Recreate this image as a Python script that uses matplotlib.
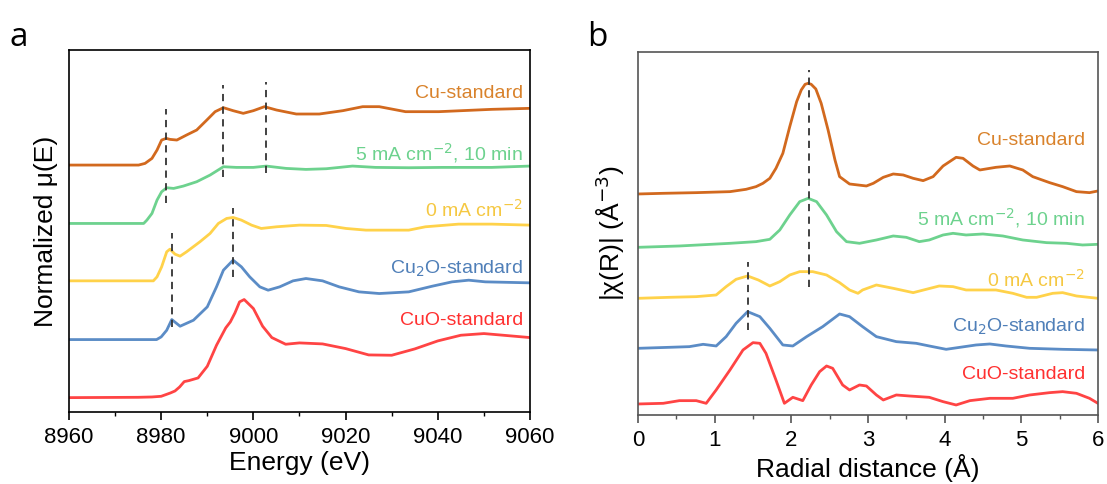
import matplotlib
matplotlib.use("Agg")
import matplotlib.pyplot as plt
from matplotlib.ticker import MultipleLocator

plt.rcParams['font.family'] = ['Liberation Sans', 'DejaVu Sans']

# ---- panel a: XANES, stacked (offsets already included) ----
e_cuo = [8960, 8975, 8978, 8980, 8981, 8982, 8983, 8984, 8985, 8986, 8988, 8990, 8992, 8994,
         8995, 8996, 8997, 8998, 9000, 9002, 9004, 9007, 9010, 9015, 9020, 9025, 9030, 9035,
         9040, 9045, 9050, 9055, 9060]
mu_cuo = [0.43, 0.44, 0.45, 0.47, 0.52, 0.57, 0.63, 0.75, 0.91, 0.94, 1.02, 1.37, 2.00, 2.52,
          2.70, 2.97, 3.30, 3.37, 3.10, 2.57, 2.23, 2.03, 2.07, 2.04, 1.90, 1.71, 1.70, 1.89,
          2.13, 2.30, 2.35, 2.29, 2.23]

e_cu2o = [8960, 8979, 8980, 8981.2, 8982.3, 8984.1, 8987, 8990, 8992, 8993.5, 8995.6, 8997.4,
          8999.2, 9001.4, 9003.2, 9005.7, 9008.6, 9011.4, 9015, 9018.6, 9022.9, 9027.3, 9033.7,
          9038.8, 9043.1, 9046.7, 9050.3, 9060]
mu_cu2o = [2.17, 2.17, 2.25, 2.45, 2.77, 2.57, 2.75, 3.15, 3.75, 4.25, 4.55, 4.35, 4.05, 3.75,
           3.65, 3.75, 3.93, 4.00, 3.93, 3.75, 3.60, 3.55, 3.60, 3.77, 3.90, 3.95, 3.90, 3.87]

e_0ma = [8960, 8978.3, 8979.1, 8980.1, 8981.2, 8981.9, 8983.0, 8984.1, 8985.5, 8988.4, 8990.6,
         8992.4, 8994.2, 8995.6, 8997.4, 8999.6, 9001.7, 9005, 9010, 9015.8, 9020.1, 9024.4,
         9030.1, 9033.7, 9037.3, 9044.5, 9051.7, 9060]
mu_0ma = [3.93, 3.93, 4.05, 4.35, 4.80, 4.88, 4.73, 4.67, 4.80, 5.10, 5.35, 5.65, 5.80, 5.83,
          5.75, 5.60, 5.50, 5.55, 5.60, 5.59, 5.50, 5.45, 5.45, 5.45, 5.55, 5.63, 5.63, 5.60]

e_5ma = [8960, 8976.2, 8976.9, 8978.0, 8979.1, 8980.1, 8981.2, 8982.7, 8984.8, 8987.7, 8990.6,
         8993.5, 8996.3, 9000, 9002.8, 9007.1, 9011.4, 9015.8, 9021.5, 9026.5, 9033.7, 9040.9,
         9051.7, 9060]
mu_5ma = [5.65, 5.65, 5.75, 5.95, 6.35, 6.60, 6.72, 6.70, 6.77, 6.90, 7.10, 7.35, 7.33, 7.33,
          7.37, 7.30, 7.27, 7.29, 7.37, 7.33, 7.32, 7.33, 7.33, 7.37]

e_cu = [8960, 8975.1, 8976.5, 8978.0, 8979.1, 8980.1, 8981.1, 8981.9, 8983.4, 8985.5, 8987.7,
        8989.9, 8991.7, 8993.5, 8995.6, 8997.8, 9000, 9002.4, 9005.0, 9009.3, 9014.3, 9019.4,
        9023.7, 9027.3, 9033.0, 9040.2, 9051.7, 9060]
mu_cu = [7.40, 7.40, 7.45, 7.60, 7.85, 8.15, 8.20, 8.17, 8.15, 8.30, 8.45, 8.75, 9.00, 9.12,
         9.03, 8.95, 9.03, 9.15, 9.05, 8.93, 8.93, 9.03, 9.15, 9.15, 9.00, 9.00, 9.07, 9.10]

# ---- panel b: FT-EXAFS, stacked ----
r_cu = [0, 0.33, 0.76, 1.20, 1.41, 1.54, 1.63, 1.72, 1.80, 1.89, 1.98, 2.07, 2.13, 2.18, 2.22,
        2.26, 2.32, 2.39, 2.48, 2.57, 2.63, 2.76, 2.98, 3.07, 3.20, 3.33, 3.46, 3.59, 3.72,
        3.85, 3.98, 4.15, 4.24, 4.37, 4.46, 4.67, 4.85, 5.02, 5.15, 5.37, 5.54, 5.72, 5.89, 6.0]
chi_cu = [6.63, 6.65, 6.67, 6.70, 6.77, 6.85, 6.95, 7.10, 7.40, 7.85, 8.65, 9.40, 9.75, 9.92,
          9.95, 9.92, 9.78, 9.35, 8.55, 7.65, 7.15, 6.93, 6.87, 6.95, 7.13, 7.23, 7.20, 7.10,
          7.03, 7.15, 7.47, 7.73, 7.70, 7.47, 7.35, 7.43, 7.47, 7.35, 7.15, 6.97, 6.85, 6.70,
          6.67, 6.72]

r_5ma = [0, 0.54, 1.20, 1.54, 1.72, 1.85, 1.98, 2.11, 2.22, 2.33, 2.46, 2.59, 2.72, 2.89, 3.11,
         3.33, 3.50, 3.67, 3.80, 3.98, 4.11, 4.28, 4.50, 4.76, 5.02, 5.33, 5.59, 5.80, 6.0]
chi_5ma = [5.03, 5.07, 5.15, 5.20, 5.27, 5.55, 6.00, 6.40, 6.50, 6.40, 6.00, 5.50, 5.20, 5.15,
           5.25, 5.37, 5.33, 5.20, 5.25, 5.40, 5.45, 5.40, 5.43, 5.37, 5.25, 5.17, 5.15, 5.10, 5.12]

r_0ma = [0, 0.41, 0.76, 1.02, 1.15, 1.28, 1.43, 1.57, 1.72, 1.85, 1.98, 2.11, 2.28, 2.46, 2.63,
         2.76, 2.87, 2.93, 3.11, 3.33, 3.59, 3.76, 3.93, 4.11, 4.28, 4.67, 4.89, 5.07, 5.20,
         5.41, 5.54, 5.72, 6.0]
chi_0ma = [3.50, 3.53, 3.55, 3.60, 3.85, 4.07, 4.17, 4.05, 3.87, 4.00, 4.20, 4.30, 4.30, 4.20,
           3.97, 3.75, 3.65, 3.75, 3.90, 3.80, 3.67, 3.77, 3.87, 3.85, 3.75, 3.75, 3.65, 3.53,
           3.53, 3.65, 3.67, 3.57, 3.50]

r_cu2o = [0, 0.41, 0.67, 0.85, 1.02, 1.15, 1.28, 1.43, 1.59, 1.72, 1.89, 2.02, 2.20, 2.41, 2.63,
          2.76, 2.93, 3.11, 3.37, 3.63, 3.80, 4.02, 4.20, 4.41, 4.59, 4.80, 5.11, 5.54, 6.0]
chi_cu2o = [2.00, 2.03, 2.05, 2.12, 2.07, 2.35, 2.75, 3.10, 2.95, 2.60, 2.10, 2.07, 2.35, 2.65,
            3.03, 2.95, 2.65, 2.35, 2.20, 2.15, 2.07, 1.97, 2.03, 2.10, 2.13, 2.07, 2.00, 1.97, 1.95]

r_cuo = [0, 0.33, 0.54, 0.76, 0.89, 1.02, 1.20, 1.37, 1.50, 1.59, 1.67, 1.80, 1.91, 2.02, 2.15,
         2.26, 2.37, 2.46, 2.54, 2.67, 2.76, 2.89, 2.98, 3.11, 3.20, 3.37, 3.54, 3.80, 3.98,
         4.15, 4.33, 4.59, 4.89, 5.11, 5.37, 5.54, 5.72, 5.89, 6.0]
chi_cuo = [0.33, 0.35, 0.43, 0.43, 0.35, 0.75, 1.35, 1.95, 2.17, 2.15, 1.85, 1.05, 0.35, 0.53,
           0.43, 0.90, 1.30, 1.47, 1.40, 0.90, 0.75, 0.90, 0.87, 0.60, 0.45, 0.60, 0.57, 0.53,
           0.40, 0.30, 0.43, 0.50, 0.50, 0.60, 0.67, 0.70, 0.65, 0.50, 0.35]

labels = ['Cu-standard', '5 mA cm$^{-2}$, 10 min', '0 mA cm$^{-2}$',
          'Cu$_2$O-standard', 'CuO-standard']
line_colors = ['#D2691E', '#6DD28E', '#FFD24A', '#5B8CC6', '#FF4444']
text_colors = ['#D9822B', '#6DD28E', '#F5C842', '#4F7FB8', '#FF3030']

label_y_a = [9.53, 7.75, 6.05, 4.30, 2.75]
label_y_b = [8.22, 5.90, 4.05, 2.65, 1.20]

# dashed guide lines: (x, y0, y1)
guides_a = [(8981.1, 6.25, 9.07), (8993.5, 7.03, 9.80), (9002.7, 7.15, 9.90),
            (8995.6, 4.05, 6.10), (8982.3, 2.55, 5.35)]
guides_b = [(2.23, 3.85, 10.35), (1.43, 2.55, 4.60)]

fig = plt.figure(figsize=(11.07, 4.84), dpi=100)
ax1 = fig.add_axes([0.0623, 0.1488, 0.4165, 0.748])
ax2 = fig.add_axes([0.5763, 0.1426, 0.4155, 0.750])

series_a = [(e_cu, mu_cu), (e_5ma, mu_5ma), (e_0ma, mu_0ma), (e_cu2o, mu_cu2o), (e_cuo, mu_cuo)]
series_b = [(r_cu, chi_cu), (r_5ma, chi_5ma), (r_0ma, chi_0ma), (r_cu2o, chi_cu2o), (r_cuo, chi_cuo)]

for (x, y), c in zip(series_a, line_colors):
    ax1.plot(x, y, color=c, lw=2, solid_joinstyle='round')
for (x, y), c in zip(series_b, line_colors):
    ax2.plot(x, y, color=c, lw=2, solid_joinstyle='round')

for x, y0, y1 in guides_a:
    ax1.plot([x, x], [y0, y1], color='#333333', lw=1.3, ls=(0, (4, 3)))
for x, y0, y1 in guides_b:
    ax2.plot([x, x], [y0, y1], color='#333333', lw=1.3, ls=(0, (4, 3)))

for lab, y, c in zip(labels, label_y_a, text_colors):
    ax1.text(9058.5, y, lab, color=c, fontsize=14, ha='right', va='center')
for lab, y, c in zip(labels, label_y_b, text_colors):
    ax2.text(5.83, y, lab, color=c, fontsize=14, ha='right', va='center')

ax1.set_xlim(8960, 9060)
ax1.set_ylim(0, 10.85)
ax1.xaxis.set_major_locator(MultipleLocator(20))
ax1.xaxis.set_minor_locator(MultipleLocator(10))
ax1.set_xlabel('Energy (eV)', fontsize=19, labelpad=2)
ax1.set_ylabel('Normalized \u03bc(E)', fontsize=19, labelpad=8)

ax2.set_xlim(0, 6)
ax2.set_ylim(0, 10.89)
ax2.xaxis.set_major_locator(MultipleLocator(1))
ax2.xaxis.set_minor_locator(MultipleLocator(0.5))
ax2.set_xlabel('Radial distance (\u00c5)', fontsize=19, labelpad=2)
ax2.set_ylabel('|\u03c7(R)| (\u00c5$^{-3}$)', fontsize=19, labelpad=8)

for ax, sc in [(ax1, 'black'), (ax2, '#555555')]:
    ax.set_yticks([])
    ax.tick_params(axis='x', which='major', direction='out', length=6, width=1.2,
                   labelsize=16, color=sc, pad=5)
    ax.tick_params(axis='x', which='minor', direction='out', length=3, width=1.0, color=sc)
    for s in ax.spines.values():
        s.set_color(sc)
        s.set_linewidth(1.2)

fig.text(0.009, 0.905, 'a', fontsize=24, family=['Open Sans', 'DejaVu Sans'])
fig.text(0.530, 0.905, 'b', fontsize=24, family=['Open Sans', 'DejaVu Sans'])

fig.savefig('out.png', dpi=100)
